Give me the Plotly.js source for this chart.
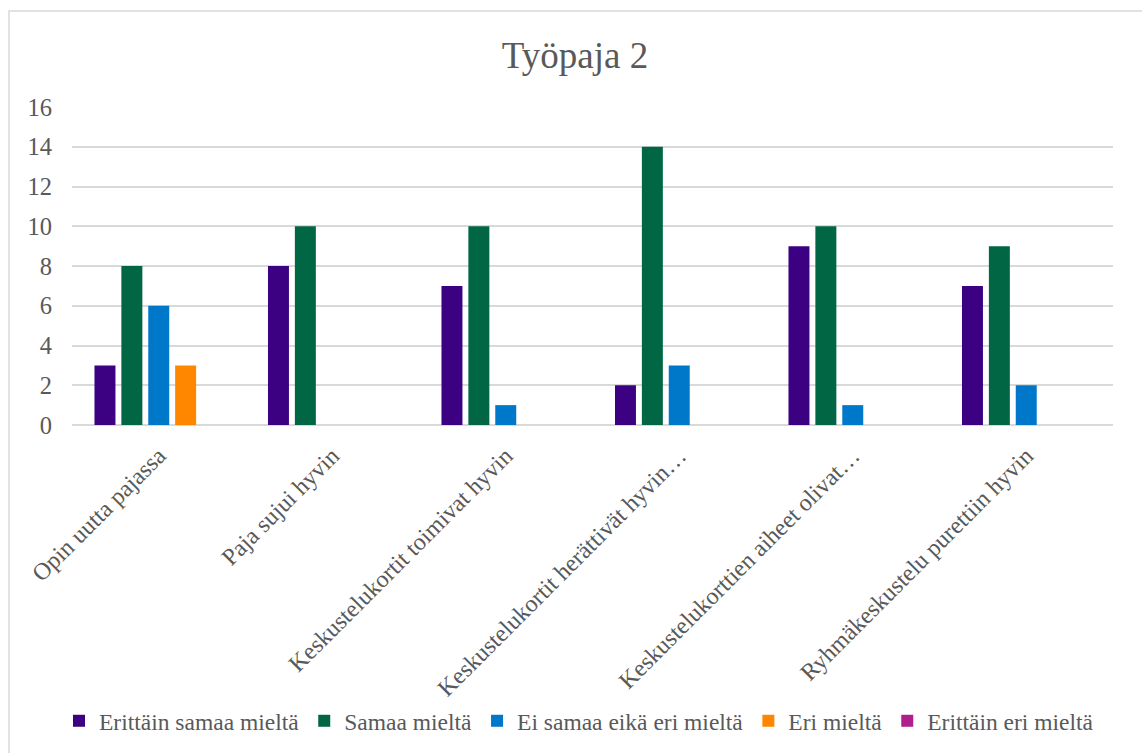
<!DOCTYPE html>
<html>
<head>
<meta charset="utf-8">
<script src="https://cdn.plot.ly/plotly-3.0.1.min.js"></script>
<style>
html,body{margin:0;padding:0;background:#fff;}
#chart{width:1142px;height:753px;}
</style>
</head>
<body>
<div id="chart"></div>
<script>
const categories = [
  "Opin uutta pajassa",
  "Paja sujui hyvin",
  "Keskustelukortit toimivat hyvin",
  "Keskustelukortit herättivät hyvin…",
  "Keskustelukorttien aiheet olivat…",
  "Ryhmäkeskustelu purettiin hyvin"
];
const seriesNames = ["Erittäin samaa mieltä", "Samaa mieltä", "Ei samaa eikä eri mieltä", "Eri mieltä", "Erittäin eri mieltä"];
const erittainSamaa = [3, 8, 7, 2, 9, 7];
const samaa = [8, 10, 10, 14, 10, 9];
const eiSamaaEikaEri = [6, 0, 1, 3, 1, 2];
const eri = [3, 0, 0, 0, 0, 0];
const erittainEri = [0, 0, 0, 0, 0, 0];
const yTicks = [0, 2, 4, 6, 8, 10, 12, 14, 16];

const colors = ["#3C0082", "#006643", "#0078CA", "#FF8700", "#B01E8E"];
const values = [erittainSamaa, samaa, eiSamaaEikaEri, eri, erittainEri];
const font = "Liberation Serif";

const traces = values.map((v, i) => ({
  type: "bar",
  name: seriesNames[i],
  x: categories,
  y: v,
  marker: {color: colors[i], line: {width: 0}},
  hoverinfo: "x+y+name"
}));

const W = 1142, H = 753, L = 72, R = 29, T = 107, B = 328;
const pw = W - L - R, ph = H - T - B;

const layout = {
  width: W, height: H,
  margin: {l: L, r: R, t: T, b: B},
  paper_bgcolor: "#fff", plot_bgcolor: "#fff",
  font: {family: font, color: "#595959", size: 24},
  title: {text: "Työpaja 2", font: {family: font, size: 37, color: "#595959"},
          x: 575/W, xref: "container", xanchor: "center", y: 1 - 55/H, yref: "container", yanchor: "middle"},
  barmode: "group",
  bargap: 0.225,
  bargroupgap: 0.22,
  xaxis: {
    tickangle: -45, showgrid: false, zeroline: false, showline: false,
    tickfont: {family: font, size: 24, color: "#595959"},
    ticklabelstandoff: 11, automargin: false
  },
  yaxis: {
    range: [0, 16], tickvals: yTicks, ticktext: yTicks.map(String),
    showgrid: true, gridcolor: "#d9d9d9", gridwidth: 1.5,
    zeroline: true, zerolinecolor: "#d9d9d9", zerolinewidth: 1.5,
    showline: false, ticks: "",
    tickfont: {family: font, size: 24.5, color: "#595959"},
    ticklabelstandoff: 19, automargin: false, fixedrange: true
  },
  showlegend: true,
  legend: {
    orientation: "h", xref: "container", yref: "container",
    x: 579/W, xanchor: "center", y: 1 - 721/H, yanchor: "middle",
    font: {family: font, size: 23.5, color: "#595959"},
    bgcolor: "rgba(0,0,0,0)",
    itemwidth: 30, tracegroupgap: 0, traceorder: "normal"
  },
  shapes: [{
    type: "rect", xref: "paper", yref: "paper",
    x0: (9 - L)/pw, x1: (1160 - L)/pw,
    y0: -1.2, y1: (H - B - 11)/ph,
    line: {color: "#d9d9d9", width: 1.5}, layer: "below"
  }]
};

Plotly.newPlot("chart", traces, layout, {displayModeBar: false});
</script>
</body>
</html>
